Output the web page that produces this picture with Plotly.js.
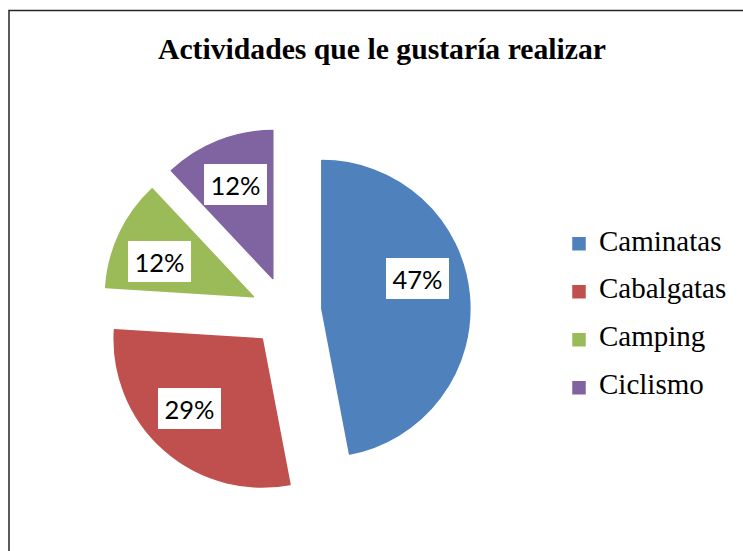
<!DOCTYPE html>
<html>
<head>
<meta charset="utf-8">
<script src="https://cdn.plot.ly/plotly-3.0.1.min.js"></script>
<style>
  html, body { margin: 0; padding: 0; background: #fff; }
  #chart { width: 743px; height: 551px; }
</style>
</head>
<body>
<div id="chart"></div>
<script>
// ---- data ----
const categories = ['Caminatas', 'Cabalgatas', 'Camping', 'Ciclismo'];
const values = [47, 29, 12, 12];
const percentLabels = ['47%', '29%', '12%', '12%'];

// ---- style ----
const colors = ['#4F81BD', '#C0504D', '#9BBB59', '#8064A2'];
const labelAngleShift = [-12, 5, -4.5, 0]; // degrees, label placement tweak
const W = 743, H = 551;
const pull = 0.243;
const domX = [0.1373, 0.6326];
const domY = [0.0998, 0.7677];
const serif = 'Liberation Serif, Times New Roman, serif';

// legend text: large first line, blank second line to widen spacing
const legendNames = categories.map(c => '<span style="font-size:29px">' + c + '</span><br>\u00a0');

// geometry derived from domain for label boxes
const boxW = (domX[1] - domX[0]) * W, boxH = (domY[1] - domY[0]) * H;
const cx = (domX[0] + domX[1]) / 2 * W;
const cy = H - (domY[0] + domY[1]) / 2 * H;
const r = Math.min(boxW, boxH) / 2 / (1 + pull);
const total = values.reduce((a, b) => a + b, 0);
let cum = 0;
const annotations = values.map((v, i) => {
  const mid = (cum + v / 2) / total * 360;
  cum += v;
  const a = mid * Math.PI / 180;
  const vx = cx + pull * r * Math.sin(a), vy = cy - pull * r * Math.cos(a);
  const b = (mid + labelAngleShift[i]) * Math.PI / 180;
  const d = 0.68 * r;
  const px = vx + d * Math.sin(b), py = vy - d * Math.cos(b);
  return {
    x: px / W, y: 1 - py / H, xref: 'paper', yref: 'paper',
    text: percentLabels[i], showarrow: false,
    font: {family: 'Lato, Noto Sans, sans-serif', size: 25.5, color: '#000'},
    bgcolor: '#ffffff', borderwidth: 0, borderpad: 4,
    width: 55, height: 33, xanchor: 'center', yanchor: 'middle'
  };
});

const trace = {
  type: 'pie',
  labels: legendNames,
  values: values,
  sort: false,
  direction: 'clockwise',
  rotation: 0,
  pull: pull,
  textinfo: 'none',
  hoverinfo: 'skip',
  marker: {colors: colors, line: {color: colors, width: 1.5}},
  domain: {x: domX, y: domY},
  showlegend: true
};

const layout = {
  width: W, height: H,
  margin: {l: 0, r: 0, t: 0, b: 0},
  paper_bgcolor: '#ffffff',
  title: {
    text: '<b>Actividades que le gustaría realizar</b>',
    font: {family: serif, size: 29.7, color: '#000'},
    x: 382 / W, xanchor: 'center', xref: 'paper',
    y: 1 - 48.5 / H, yanchor: 'middle', yref: 'container'
  },
  legend: {
    x: 559 / W, xanchor: 'left',
    y: 1 - 226 / H, yanchor: 'top',
    valign: 'top',
    font: {family: serif, size: 17.3, color: '#000'},
    bgcolor: 'rgba(0,0,0,0)', borderwidth: 0
  },
  shapes: [{
    type: 'rect', xref: 'paper', yref: 'paper',
    x0: 9 / W, x1: 1.05, y0: -0.05, y1: 1 - 10.5 / H,
    line: {color: '#262626', width: 1.5}, fillcolor: 'rgba(0,0,0,0)', layer: 'below'
  }],
  annotations: annotations
};

Plotly.newPlot('chart', [trace], layout, {staticPlot: true, displayModeBar: false});
</script>
</body>
</html>
